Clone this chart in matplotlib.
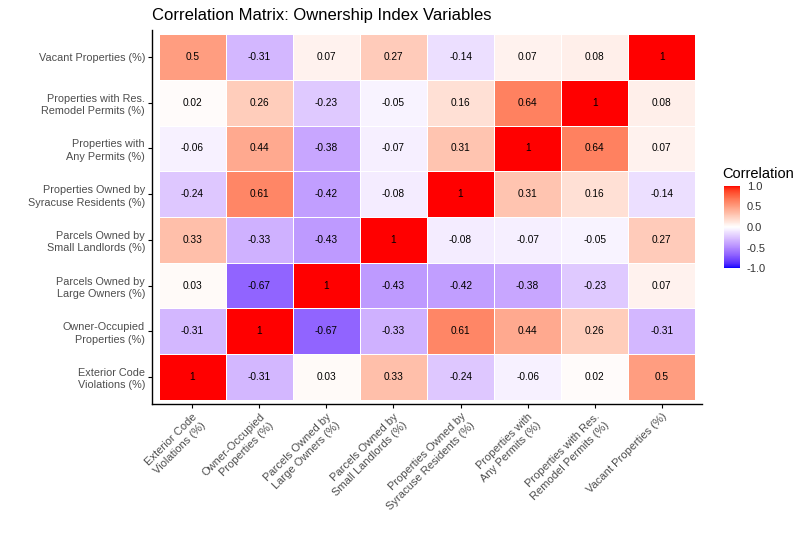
import numpy as np
import matplotlib
matplotlib.use('Agg')
import matplotlib.pyplot as plt
from matplotlib.colors import ListedColormap

plt.rcParams['font.family'] = ['Liberation Sans', 'DejaVu Sans']

# variables (x order left->right, y order bottom->top)
variables = ['Exterior Code\nViolations (%)',
             'Owner-Occupied\nProperties (%)',
             'Parcels Owned by\nLarge Owners (%)',
             'Parcels Owned by\nSmall Landlords (%)',
             'Properties Owned by\nSyracuse Residents (%)',
             'Properties with\nAny Permits (%)',
             'Properties with Res.\nRemodel Permits (%)',
             'Vacant Properties (%)']

# correlation values, one row per variable
r_exterior = [1, -0.31, 0.03, 0.33, -0.24, -0.06, 0.02, 0.5]
r_owner = [-0.31, 1, -0.67, -0.33, 0.61, 0.44, 0.26, -0.31]
r_large = [0.03, -0.67, 1, -0.43, -0.42, -0.38, -0.23, 0.07]
r_small = [0.33, -0.33, -0.43, 1, -0.08, -0.07, -0.05, 0.27]
r_syracuse = [-0.24, 0.61, -0.42, -0.08, 1, 0.31, 0.16, -0.14]
r_anyperm = [-0.06, 0.44, -0.38, -0.07, 0.31, 1, 0.64, 0.07]
r_remodel = [0.02, 0.26, -0.23, -0.05, 0.16, 0.64, 1, 0.08]
r_vacant = [0.5, -0.31, 0.07, 0.27, -0.14, 0.07, 0.08, 1]

corr = np.array([r_exterior, r_owner, r_large, r_small,
                 r_syracuse, r_anyperm, r_remodel, r_vacant])


# --- blue-white-red gradient interpolated in CIELAB (like ggplot gradient2) ---
def srgb_to_lab(rgb):
    rgb = np.asarray(rgb, float)
    lin = np.where(rgb <= 0.04045, rgb / 12.92, ((rgb + 0.055) / 1.055) ** 2.4)
    M = np.array([[0.4124, 0.3576, 0.1805],
                  [0.2126, 0.7152, 0.0722],
                  [0.0193, 0.1192, 0.9505]])
    xyz = M @ lin
    wp = np.array([0.95047, 1.0, 1.08883])
    t = xyz / wp
    f = np.where(t > (6 / 29) ** 3, np.cbrt(t), t / (3 * (6 / 29) ** 2) + 4 / 29)
    return np.array([116 * f[1] - 16, 500 * (f[0] - f[1]), 200 * (f[1] - f[2])])


def lab_to_srgb(lab):
    L, a, b = lab
    fy = (L + 16) / 116
    fx = fy + a / 500
    fz = fy - b / 200
    f = np.array([fx, fy, fz])
    t = np.where(f > 6 / 29, f ** 3, 3 * (6 / 29) ** 2 * (f - 4 / 29))
    xyz = t * np.array([0.95047, 1.0, 1.08883])
    Minv = np.array([[3.2406, -1.5372, -0.4986],
                     [-0.9689, 1.8758, 0.0415],
                     [0.0557, -0.2040, 1.0570]])
    lin = np.clip(Minv @ xyz, 0, 1)
    rgb = np.where(lin <= 0.0031308, 12.92 * lin, 1.055 * lin ** (1 / 2.4) - 0.055)
    return np.clip(rgb, 0, 1)


lab_blue = srgb_to_lab([0, 0, 1])
lab_white = srgb_to_lab([1, 1, 1])
lab_red = srgb_to_lab([1, 0, 0])
cols = []
for v in np.linspace(-1, 1, 256):
    if v < 0:
        lab = lab_white + (lab_blue - lab_white) * (-v)
    else:
        lab = lab_white + (lab_red - lab_white) * v
    cols.append(lab_to_srgb(lab))
cmap = ListedColormap(cols)

# --- figure ---
fig = plt.figure(figsize=(8.06, 5.37), dpi=100)
ax = fig.add_axes([0.1886, 0.2469, 0.6824, 0.698])

n = len(variables)
edges = np.arange(n + 1) - 0.5
mesh = ax.pcolormesh(edges, edges, corr, cmap=cmap, vmin=-1, vmax=1,
                     edgecolors='white', linewidth=0.5)

for i in range(n):
    for j in range(n):
        v = corr[i, j]
        txt = '1' if v == 1 else f'{v:g}'
        ax.text(j, i, txt, ha='center', va='center', fontsize=7.3, color='black')

ax.set_xlim(-0.6, n - 0.4)
ax.set_ylim(-0.6, n - 0.4)
ax.set_xticks(range(n))
ax.set_yticks(range(n))
ax.set_xticklabels(variables, rotation=45, ha='right', rotation_mode='anchor',
                   fontsize=8, color='#4D4D4D', linespacing=1.3)
ax.set_yticklabels(variables, fontsize=7.8, color='#4D4D4D', linespacing=1.3)
ax.tick_params(length=3, width=0.8, color='black', pad=2)
for s in ['top', 'right']:
    ax.spines[s].set_visible(False)
for s in ['left', 'bottom']:
    ax.spines[s].set_linewidth(1.0)

fig.text(0.1886, 0.972, 'Correlation Matrix: Ownership Index Variables',
         fontsize=12, ha='left', va='center', color='black')

# legend colorbar
cax = fig.add_axes([724 / 806, 1 - 268 / 537, 16 / 806, 82 / 537])
cb = fig.colorbar(mesh, cax=cax, ticks=[-1, -0.5, 0, 0.5, 1])
cb.outline.set_visible(False)
cb.ax.set_yticklabels(['-1.0', '-0.5', '0.0', '0.5', '1.0'])
cb.ax.tick_params(length=0, labelsize=8, labelcolor='#333333', pad=5)
fig.text(722 / 806, 1 - 174 / 537, 'Correlation', fontsize=10.5, ha='left', va='center')

fig.savefig('out.png', dpi=100, facecolor='white')
